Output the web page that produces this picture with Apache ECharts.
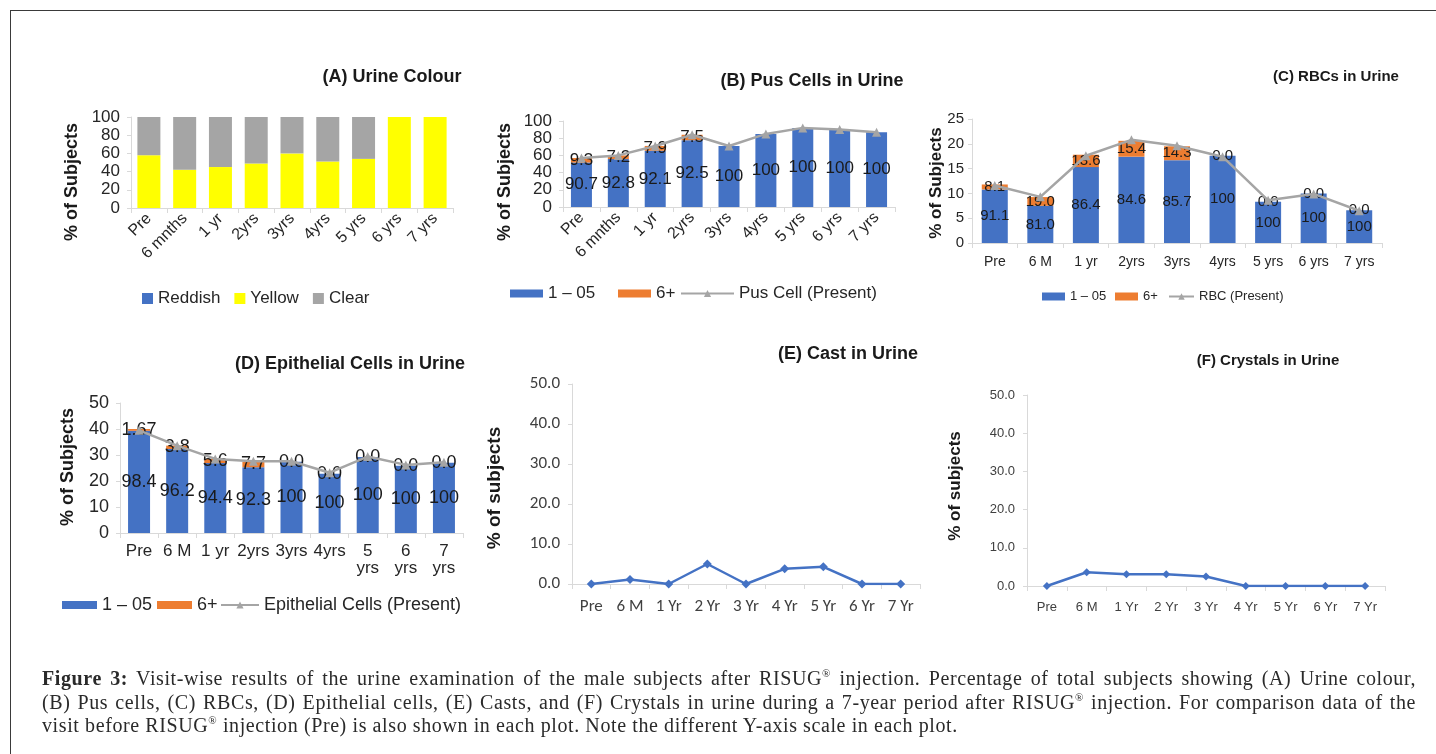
<!DOCTYPE html>
<html>
<head>
<meta charset="utf-8">
<script src="https://cdn.jsdelivr.net/npm/echarts@6/dist/echarts.min.js"></script>
<style>
html, body { margin: 0; padding: 0; background: #fff; overflow: hidden; }
#frame { position: absolute; left: 10px; top: 10px; width: 1500px; height: 800px; border: 1.5px solid #3a3a3a; }
#chart { position: absolute; left: 0; top: 0; width: 1436px; height: 754px; }
#caption { position: absolute; left: 42px; top: 667px; width: 1374px; font-family: "Liberation Serif", serif; font-size: 20px; letter-spacing: 0.6px; line-height: 23.5px; color: #2a2a2a; }
#caption div { text-align: justify; text-align-last: justify; white-space: nowrap; }
#caption div.last { text-align-last: left; }
#caption sup { font-size: 11px; line-height: 0; }
</style>
</head>
<body>
<div id="frame"></div>
<div id="chart"></div>
<div id="caption">
  <div><b>Figure 3:</b> Visit-wise results of the urine examination of the male subjects after RISUG<sup>®</sup> injection. Percentage of total subjects showing (A) Urine colour,</div>
  <div>(B) Pus cells, (C) RBCs, (D) Epithelial cells, (E) Casts, and (F) Crystals in urine during a 7-year period after RISUG<sup>®</sup> injection. For comparison data of the</div>
  <div class="last">visit before RISUG<sup>®</sup> injection (Pre) is also shown in each plot. Note the different Y-axis scale in each plot.</div>
</div>
<script>
// visit labels, one list per panel style
const visitsA = ['Pre', '6 mnths', '1 yr', '2yrs', '3yrs', '4yrs', '5 yrs', '6 yrs', '7 yrs'];
const visitsC = ['Pre', '6 M', '1 yr', '2yrs', '3yrs', '4yrs', '5 yrs', '6 yrs', '7 yrs'];
const visitsD = ['Pre', '6 M', '1 yr', '2yrs', '3yrs', '4yrs', '5\nyrs', '6\nyrs', '7\nyrs'];
const visitsE = ['Pre', '6 M', '1 Yr', '2 Yr', '3 Yr', '4 Yr', '5 Yr', '6 Yr', '7 Yr'];

// (A) urine colour, % of subjects
const colourReddish = [0, 0, 0, 0, 0, 0, 0, 0, 0];
const colourYellow = [58, 42, 45, 49, 60, 51, 54, 100, 100];
const colourClear = [42, 58, 55, 51, 40, 49, 46, 0, 0];

// (B) pus cells
const pusLow = [51.7, 55.7, 65.4, 77.7, 71, 85, 92, 90, 87];
const pusHigh = [5.3, 4.3, 5.6, 6.3, 0, 0, 0, 0, 0];
const pusPresent = [57, 60, 71, 84, 71, 85, 92, 90, 87];
const pusLowText = ['90.7', '92.8', '92.1', '92.5', '100', '100', '100', '100', '100'];
const pusHighText = ['9.3', '7.2', '7.9', '7.5', '', '', '', '', ''];

// (C) RBCs
const rbcLow = [10.8, 7.5, 15.3, 17.4, 16.7, 17.6, 8.3, 10.0, 6.6];
const rbcHigh = [1.0, 1.76, 2.5, 3.2, 2.8, 0, 0, 0, 0];
const rbcPresent = [11.6, 9.3, 17.6, 20.8, 19.6, 17.4, 8.6, 9.9, 6.5];
const rbcLowText = ['91.1', '81.0', '86.4', '84.6', '85.7', '100', '100', '100', '100'];
const rbcHighText = ['8.1', '19.0', '13.6', '15.4', '14.3', '0.0', '0.0', '0.0', '0.0'];

// (D) epithelial cells
const epiLow = [39.3, 32.3, 26.9, 25.3, 27.4, 22.8, 29.2, 25.9, 27.0];
const epiHigh = [0.7, 1.3, 1.6, 2.1, 0, 0, 0, 0, 0];
const epiPresent = [39.5, 33.6, 28.5, 27.6, 27.6, 23.2, 29.4, 26.2, 27.2];
const epiLowText = ['98.4', '96.2', '94.4', '92.3', '100', '100', '100', '100', '100'];
const epiHighText = ['1.67', '3.8', '5.6', '7.7', '0.0', '0.0', '0.0', '0.0', '0.0'];

// (E) casts, (F) crystals
const castValues = [0, 1.1, 0, 5.0, 0, 3.8, 4.3, 0, 0];
const crystalValues = [0, 3.6, 3.1, 3.1, 2.5, 0, 0, 0, 0];

const ARIAL = '"Liberation Sans", Arial, sans-serif';
const NARROW = '"Liberation Sans Narrow", "Arial Narrow", "Liberation Sans", sans-serif';
const CALIBRI = 'Carlito, Lato, sans-serif';
const BLUE = '#4472C4', ORANGE = '#ED7D31', GREY = '#A5A5A5', YELLOW = '#FFFF00';
const AXIS_GREY = '#D9D9D9';

let chart = echarts.init(document.getElementById('chart'));

function xCat(grid, data, font, size, color, margin, rotate) {
    return {
        type: 'category', gridIndex: grid, data: data,
        axisLine: {lineStyle: {color: AXIS_GREY, width: 1}},
        axisTick: {show: true, length: 5, lineStyle: {color: AXIS_GREY}},
        axisLabel: {interval: 0, rotate: rotate || 0, margin: margin, fontFamily: font, fontSize: size, color: color, lineHeight: size}
    };
}

function yVal(grid, max, step, font, size, color, margin, fmt) {
    return {
        type: 'value', gridIndex: grid, min: 0, max: max, interval: step,
        axisLine: {show: true, lineStyle: {color: AXIS_GREY, width: 1}},
        axisTick: {show: true, length: 4, lineStyle: {color: AXIS_GREY}},
        splitLine: {show: false},
        axisLabel: {
            margin: margin, fontFamily: font, fontSize: size, color: color, formatter: fmt,
            showMinLabel: true, showMaxLabel: true, hideOverlap: false
        }
    };
}

function stackBar(name, grid, stack, data, color, width, texts, font, size) {
    return {
        type: 'bar', name: name, xAxisIndex: grid, yAxisIndex: grid, stack: stack,
        data: data, barWidth: width, itemStyle: {color: color},
        label: texts ? {
            show: true, position: 'inside', color: '#1a1a1a', fontFamily: font, fontSize: size,
            formatter: p => texts[p.dataIndex]
        } : {show: false}
    };
}

function presentLine(name, grid, data) {
    return {
        type: 'line', name: name, xAxisIndex: grid, yAxisIndex: grid, data: data,
        symbol: 'triangle', symbolSize: 9,
        lineStyle: {color: GREY, width: 2.5}, itemStyle: {color: GREY}
    };
}

function pointLine(grid, data, size) {
    return {
        type: 'line', name: 'g' + grid, xAxisIndex: grid, yAxisIndex: grid, data: data,
        symbol: 'diamond', symbolSize: size,
        lineStyle: {color: BLUE, width: 2.5}, itemStyle: {color: BLUE}
    };
}

function leg(name, left, top, w, h, font, size, icon) {
    return {
        data: [icon ? {name: name, icon: icon} : name],
        left: left, top: top, itemWidth: w, itemHeight: h, padding: 0, itemGap: 0,
        selectedMode: false,
        textStyle: {fontFamily: font, fontSize: size, color: '#262626'}
    };
}

function heading(text, x, y, font, size) {
    return {
        text: text, left: x, top: y, textAlign: 'center', padding: 0,
        textStyle: {fontFamily: font, fontSize: size, fontWeight: 'bold', color: '#1a1a1a'}
    };
}

function yName(text, x, y, size) {
    return {
        type: 'text', x: x, y: y, rotation: Math.PI / 2,
        style: {text: text, fontFamily: ARIAL, fontSize: size, fontWeight: 'bold', fill: '#1a1a1a', align: 'center', verticalAlign: 'middle'}
    };
}

let fixed1 = v => v.toFixed(1);

let option = {
    animation: false,
    title: [
        heading('(A) Urine Colour', 392, 68, ARIAL, 18),
        heading('(B) Pus Cells in Urine', 812, 72, ARIAL, 18),
        heading('(C) RBCs in Urine', 1336, 69, NARROW, 15),
        heading('(D) Epithelial Cells in Urine', 350, 355, ARIAL, 18),
        heading('(E) Cast in Urine', 848, 345, ARIAL, 18),
        heading('(F) Crystals in Urine', 1268, 353, NARROW, 15)
    ],
    graphic: [
        yName('% of Subjects', 72, 182, 18),
        yName('% of Subjects', 505, 182, 18),
        yName('% of Subjects', 936, 183, 17),
        yName('% of Subjects', 68, 467, 18),
        yName('% of subjects', 495, 488, 19),
        yName('% of subjects', 955, 486, 17)
    ],
    legend: [
        {
            data: [{name: 'Reddish', icon: 'rect'}, {name: 'Yellow', icon: 'rect'}, {name: 'Clear', icon: 'rect'}],
            left: 142, top: 290, itemWidth: 11, itemHeight: 11, itemGap: 14, padding: 0, selectedMode: false,
            textStyle: {fontFamily: ARIAL, fontSize: 17, color: '#262626'}
        },
        leg('1 – 05', 510, 285, 33, 8, ARIAL, 17, 'rect'),
        leg('6+', 618, 285, 33, 8, ARIAL, 17, 'rect'),
        leg('Pus Cell (Present)', 680, 285, 53, 9, ARIAL, 17),
        leg('1 – 05', 1042, 290, 23, 8, NARROW, 13, 'rect'),
        leg('6+', 1115, 290, 23, 8, NARROW, 13, 'rect'),
        leg('RBC (Present)', 1168, 290, 25, 8, NARROW, 13),
        leg('1 – 05', 62, 596, 35, 8, ARIAL, 18, 'rect'),
        leg('6+', 157, 596, 35, 8, ARIAL, 18, 'rect'),
        leg('Epithelial Cells (Present)', 220, 596, 38, 9, ARIAL, 18)
    ],
    grid: [
        {left: 131, top: 117, width: 322, height: 91},
        {left: 563, top: 121, width: 332, height: 86},
        {left: 972, top: 119, width: 410, height: 124},
        {left: 120, top: 403, width: 343, height: 130},
        {left: 572, top: 384, width: 348, height: 200},
        {left: 1027, top: 395, width: 358, height: 191}
    ],
    xAxis: [
        xCat(0, visitsA, ARIAL, 16, '#262626', 8, 45),
        xCat(1, visitsA, ARIAL, 16, '#262626', 8, 45),
        xCat(2, visitsC, NARROW, 14, '#262626', 12),
        xCat(3, visitsD, ARIAL, 17, '#262626', 10),
        xCat(4, visitsE, CALIBRI, 17, '#404040', 14),
        xCat(5, visitsE, NARROW, 13, '#404040', 15)
    ],
    yAxis: [
        yVal(0, 100, 20, ARIAL, 17, '#262626', 11),
        yVal(1, 100, 20, ARIAL, 17, '#262626', 11),
        yVal(2, 25, 5, NARROW, 15, '#262626', 8),
        yVal(3, 50, 10, ARIAL, 18, '#262626', 11),
        yVal(4, 50, 10, CALIBRI, 17, '#404040', 12, fixed1),
        yVal(5, 50, 10, NARROW, 13, '#404040', 12, fixed1)
    ],
    series: [
        stackBar('Reddish', 0, 'a', colourReddish, BLUE, 23),
        stackBar('Yellow', 0, 'a', colourYellow, YELLOW, 23),
        stackBar('Clear', 0, 'a', colourClear, GREY, 23),

        stackBar('1 – 05', 1, 'b', pusLow, BLUE, 21, pusLowText, ARIAL, 17),
        stackBar('6+', 1, 'b', pusHigh, ORANGE, 21, pusHighText, ARIAL, 17),
        presentLine('Pus Cell (Present)', 1, pusPresent),

        stackBar('1 – 05', 2, 'c', rbcLow, BLUE, 26, rbcLowText, NARROW, 15),
        stackBar('6+', 2, 'c', rbcHigh, ORANGE, 26, rbcHighText, NARROW, 15),
        presentLine('RBC (Present)', 2, rbcPresent),

        stackBar('1 – 05', 3, 'd', epiLow, BLUE, 22, epiLowText, ARIAL, 18),
        stackBar('6+', 3, 'd', epiHigh, ORANGE, 22, epiHighText, ARIAL, 18),
        presentLine('Epithelial Cells (Present)', 3, epiPresent),

        pointLine(4, castValues, 9),
        pointLine(5, crystalValues, 8)
    ]
};

chart.setOption(option);
</script>
</body>
</html>
